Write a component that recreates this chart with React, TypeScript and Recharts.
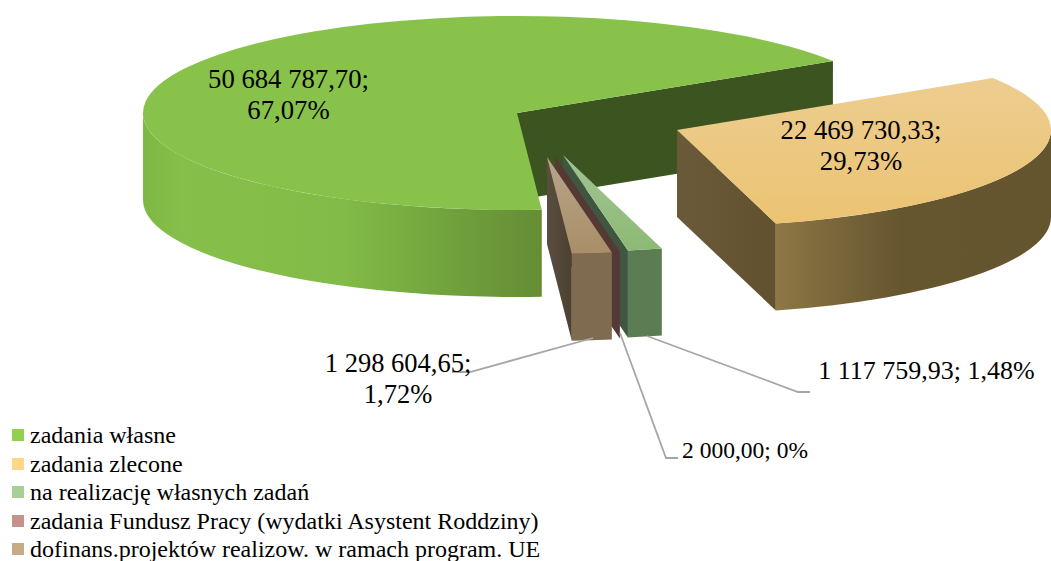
import { PieChart, Pie, Legend } from "recharts";

const categories = [
  "zadania własne",
  "zadania zlecone",
  "na realizację własnych zadań",
  "zadania Fundusz Pracy (wydatki Asystent Roddziny)",
  "dofinans.projektów realizow. w ramach program. UE",
];
const amounts = [50684787.7, 22469730.33, 1117759.93, 2000.0, 1298604.65];
const amountLabels = ["50 684 787,70", "22 469 730,33", "1 117 759,93", "2 000,00", "1 298 604,65"];
const percentLabels = ["67,07%", "29,73%", "1,48%", "0%", "1,72%"];
const legendColors = ["#92d050", "#ffd588", "#a9cf98", "#c4938a", "#c4ad86"];

const table = categories.map((name, idx) => ({
  name,
  value: amounts[idx],
  fill: legendColors[idx],
  idx,
}));

// how far each slice is pulled out of the pie centre
const explodeX = [-78, 82, -32, -40, -48];
const explodeY = [-7, 10, 35, 36, 37];

const TILT = 97 / 374;
const DEPTH = 87;
const FONT = "'Liberation Serif', 'Times New Roman', serif";

const topTones = [
  ["#88c24b", "#88c24b"],
  ["#edcd90", "#ebc372"],
  ["#a3c393", "#8dba75"],
  ["#7a5550", "#7a5550"],
  ["#b8a488", "#a98f68"],
];
const frontTones = [
  [[0, "#7eb844"], [0.1, "#86c04a"], [0.5, "#82bb47"], [0.8, "#6f9f3c"], [1, "#658d35"]],
  [[0, "#8e7846"], [0.15, "#7f6b3e"], [0.45, "#66562f"], [1, "#65552f"]],
  [[0, "#5c7c53"], [1, "#5c7c53"]],
  [[0, "#5c3d39"], [1, "#5c3d39"]],
  [[0, "#7f6c50"], [1, "#7f6c50"]],
];
const sideTones = [
  ["#3c5520", "#3c5520"],
  ["#6a5a3a", "#61512e"],
  ["#3f5640", "#3f5640"],
  ["#553935", "#553935"],
  ["#5a4e40", "#4c4030"],
];

const RAD = Math.PI / 180;

function Slice3D(props: any) {
  const idx = props.idx;
  const rx = props.outerRadius;
  const ry = rx * TILT;
  const ax = props.cx + explodeX[idx];
  const ay = props.cy + explodeY[idx];
  const start = props.startAngle;
  const end = props.endAngle;
  const pt = (a: number) => [ax + rx * Math.cos(a * RAD), ay - ry * Math.sin(a * RAD)];
  const [sx, sy] = pt(start);
  const [ex, ey] = pt(end);
  const large = start - end > 180 ? 1 : 0;

  const walls: string[] = [];
  [[180, 360], [-180, 0]].forEach(([b0, b1]) => {
    const lo = Math.max(end, b0);
    const hi = Math.min(start, b1);
    if (lo < hi) {
      const [x0, y0] = pt(hi);
      const [x1, y1] = pt(lo);
      walls.push(
        `M${x0},${y0} A${rx},${ry} 0 0 1 ${x1},${y1} L${x1},${y1 + DEPTH} A${rx},${ry} 0 0 0 ${x0},${y0 + DEPTH} Z`
      );
    }
  });

  return (
    <g>
      <defs>
        <linearGradient id={`top${idx}`} x1="0" y1="0" x2="0" y2="1">
          <stop offset="0" stopColor={topTones[idx][0]} />
          <stop offset="1" stopColor={topTones[idx][1]} />
        </linearGradient>
        <linearGradient id={`front${idx}`} x1="0" y1="0" x2="1" y2="0">
          {frontTones[idx].map((s: any, i: number) => (
            <stop key={i} offset={s[0]} stopColor={s[1]} />
          ))}
        </linearGradient>
        <linearGradient id={`side${idx}`} x1="0" y1="0" x2="1" y2="0">
          <stop offset="0" stopColor={sideTones[idx][0]} />
          <stop offset="1" stopColor={sideTones[idx][1]} />
        </linearGradient>
      </defs>
      {/* cut face at the clockwise end of the slice */}
      <path
        d={`M${ax},${ay} L${ex},${ey} L${ex},${ey + DEPTH} L${ax},${ay + DEPTH} Z`}
        fill={`url(#side${idx})`}
      />
      {walls.map((d, i) => (
        <path key={i} d={d} fill={`url(#front${idx})`} />
      ))}
      <path
        d={`M${ax},${ay} L${sx},${sy} A${rx},${ry} 0 ${large} 1 ${ex},${ey} Z`}
        fill={`url(#top${idx})`}
      />
    </g>
  );
}

// label anchor, font size and leader line for each slice
const labelX = [288.5, 861, 926.5, 745, 398];
const labelY = [88, 139, 379, 458, 372];
const labelSize = [26.7, 26.7, 26, 23.5, 26.5];
const labelTwoLines = [true, true, false, false, true];
const leaders = [
  "",
  "",
  "647,336 798,392 810,392",
  "620,333 666,458 678,458",
  "593,338 470,372 452,372",
];

function renderLabel(props: any) {
  const idx = props.idx ?? props.index;
  const x = labelX[idx];
  const y = labelY[idx];
  return (
    <g key={idx}>
      {leaders[idx] && <polyline points={leaders[idx]} fill="none" stroke="#a6a6a6" strokeWidth={1.8} />}
      {labelTwoLines[idx] ? (
        <text x={x} y={y} textAnchor="middle" fontFamily={FONT} fontSize={labelSize[idx]} fill="#000">
          <tspan x={x}>{amountLabels[idx]};</tspan>
          <tspan x={x} dy={31}>{percentLabels[idx]}</tspan>
        </text>
      ) : (
        <text x={x} y={y} textAnchor="middle" fontFamily={FONT} fontSize={labelSize[idx]} fill="#000">
          {amountLabels[idx]}; {percentLabels[idx]}
        </text>
      )}
    </g>
  );
}

function LegendList({ payload }: any) {
  return (
    <div style={{ fontFamily: FONT, fontSize: 24, color: "#000", textAlign: "left" }}>
      {(payload || []).map((item: any) => (
        <div key={item.value} style={{ height: 28.5, lineHeight: "28.5px", whiteSpace: "nowrap", position: "relative", paddingLeft: 30 }}>
          <span style={{ position: "absolute", left: 12, top: 8, width: 12, height: 12, background: item.color }} />
          {item.value}
        </div>
      ))}
    </div>
  );
}

export default function App() {
  return (
    <div style={{ position: "absolute", left: 0, top: 0, width: 1051, height: 561, overflow: "hidden", background: "#fff" }}>
      <PieChart width={1051} height={561} margin={{ top: 0, right: 0, bottom: 0, left: 0 }}>
        <Pie
          data={table}
          dataKey="value"
          nameKey="name"
          cx={595}
          cy={120}
          outerRadius={374}
          startAngle={273.8}
          endAngle={-86.2}
          stroke="none"
          shape={Slice3D}
          label={renderLabel}
          labelLine={false}
          isAnimationActive={false}
        />
        <Legend
          layout="horizontal"
          align="left"
          verticalAlign="bottom"
          itemSorter={null}
          wrapperStyle={{ left: 0, top: 421, bottom: "auto", width: 700 }}
          content={<LegendList />}
        />
      </PieChart>
    </div>
  );
}
